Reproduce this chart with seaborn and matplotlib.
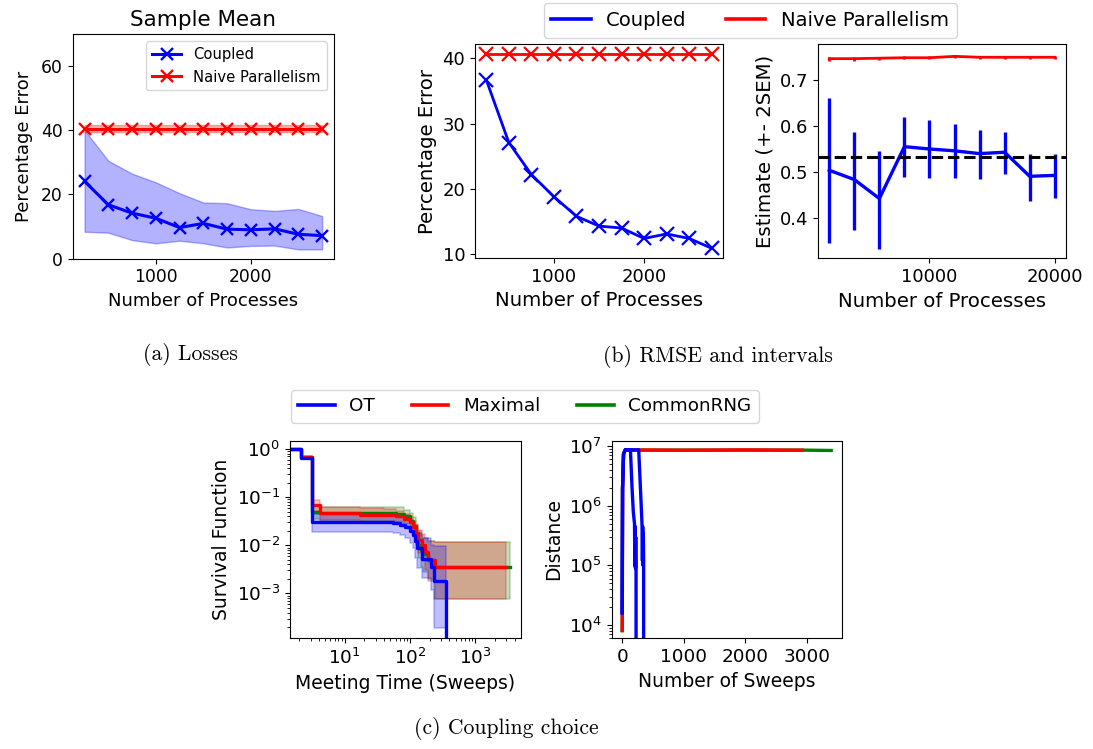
import matplotlib
matplotlib.use("Agg")
import matplotlib.pyplot as plt
from matplotlib.lines import Line2D
import numpy as np
import pandas as pd
import seaborn as sns

# ---------------- (a) Losses: sample-mean percentage error ----------------
procs = [250, 500, 750, 1000, 1250, 1500, 1750, 2000, 2250, 2500, 2750]
mean_coupled = [24.1, 16.8, 14.2, 12.6, 9.7, 11.0, 9.2, 9.0, 9.3, 7.6, 7.2]
mean_coupled_lo = [8.4, 8.1, 5.8, 4.8, 5.6, 4.8, 3.5, 4.0, 4.1, 2.9, 2.9]
mean_coupled_hi = [40.0, 30.5, 26.5, 23.8, 20.4, 17.5, 17.3, 15.4, 14.9, 15.5, 13.3]
mean_naive = [40.5, 40.5, 40.5, 40.5, 40.5, 40.5, 40.5, 40.5, 40.5, 40.5, 40.5]
mean_naive_lo = [39.4, 39.4, 39.4, 39.4, 39.4, 39.4, 39.4, 39.4, 39.4, 39.4, 39.4]
mean_naive_hi = [41.6, 41.6, 41.6, 41.6, 41.6, 41.6, 41.6, 41.6, 41.6, 41.6, 41.6]

# ---------------- (b) RMSE ----------------
rmse_coupled = [36.7, 27.1, 22.2, 18.8, 15.8, 14.3, 14.0, 12.4, 13.1, 12.4, 10.9]
rmse_naive = [40.7, 40.7, 40.7, 40.7, 40.7, 40.7, 40.7, 40.7, 40.7, 40.7, 40.7]

# ---------------- (b) estimates with +- 2 SEM ----------------
est_procs = [2000, 4000, 6000, 8000, 10000, 12000, 14000, 16000, 18000, 20000]
est_coupled = [0.504, 0.484, 0.443, 0.555, 0.550, 0.546, 0.540, 0.543, 0.491, 0.493]
est_coupled_lo = [0.348, 0.376, 0.335, 0.490, 0.488, 0.488, 0.486, 0.497, 0.438, 0.445]
est_coupled_hi = [0.660, 0.587, 0.546, 0.619, 0.612, 0.603, 0.592, 0.587, 0.540, 0.539]
est_naive = [0.745, 0.745, 0.746, 0.747, 0.747, 0.750, 0.748, 0.748, 0.748, 0.748]
est_naive_sem2 = [0.004, 0.004, 0.003, 0.003, 0.003, 0.003, 0.003, 0.003, 0.003, 0.003]
true_value = 0.532

# ---------------- (c) survival of meeting times ----------------
ot_t = [1.0, 2.1, 3.2, 55, 70, 85, 100, 112, 120, 130, 150, 210, 236, 356]
ot_s = [1.0, 0.65, 0.030, 0.029, 0.027, 0.024, 0.020, 0.016, 0.012, 0.0087, 0.0052, 0.0035, 0.0018, 0.0]
ot_lo = [1.0, 0.62, 0.019, 0.018, 0.016, 0.014, 0.011, 0.0087, 0.0055, 0.0034, 0.0021, 0.0012, 0.00019, 0.00019]
ot_hi = [1.0, 0.68, 0.045, 0.044, 0.042, 0.038, 0.033, 0.028, 0.022, 0.018, 0.014, 0.0102, 0.0095, 0.0095]

mx_t = [1.0, 2.1, 3.2, 4.2, 17, 40, 60, 80, 100, 112, 125, 134, 151, 170, 191, 241, 3000]
mx_s = [1.0, 0.67, 0.069, 0.046, 0.043, 0.042, 0.040, 0.035, 0.030, 0.0245, 0.018, 0.013, 0.0102, 0.0074, 0.0050, 0.0035, 0.0035]
mx_lo = [1.0, 0.64, 0.052, 0.033, 0.031, 0.030, 0.028, 0.024, 0.020, 0.015, 0.010, 0.0068, 0.0048, 0.0030, 0.0018, 0.00076, 0.00076]
mx_hi = [1.0, 0.70, 0.0875, 0.062, 0.060, 0.058, 0.052, 0.045, 0.038, 0.032, 0.026, 0.021, 0.017, 0.014, 0.012, 0.0118, 0.0118]

cr_t = [1.0, 2.1, 3.2, 4.2, 60, 80, 100, 112, 125, 134, 145, 160, 190, 230, 3400]
cr_s = [1.0, 0.67, 0.050, 0.046, 0.044, 0.040, 0.032, 0.025, 0.016, 0.010, 0.0080, 0.0065, 0.0050, 0.0035, 0.0035]
cr_lo = [1.0, 0.64, 0.035, 0.032, 0.031, 0.028, 0.021, 0.016, 0.0095, 0.0055, 0.0036, 0.0028, 0.0020, 0.00076, 0.00076]
cr_hi = [1.0, 0.70, 0.068, 0.064, 0.062, 0.055, 0.046, 0.038, 0.028, 0.020, 0.016, 0.014, 0.012, 0.0118, 0.0118]

# ---------------- (c) distance between coupled chains ----------------
ot1_sweeps = [0, 6, 22, 50, 134, 160, 180, 200, 205, 210, 215, 220, 225, 242]
ot1_dist = [1.6e4, 2.0e6, 7.4e6, 8.7e6, 8.7e6, 2.0e6, 8.0e5, 5.0e5, 1.0e5, 4.5e5, 9.0e4, 3.0e5, 8.4e4, 0.0]
ot2_sweeps = [0, 6, 22, 50, 268, 300, 322, 328, 333, 338, 343, 348, 360]
ot2_dist = [1.6e4, 2.0e6, 7.4e6, 8.7e6, 8.7e6, 1.6e6, 4.8e5, 1.2e5, 4.5e5, 1.0e5, 3.5e5, 1.2e5, 0.0]
mx_sweeps = [0, 2, 6, 22, 50, 1000, 2000, 2920]
mx_dist = [8.2e3, 1.6e4, 2.0e6, 7.4e6, 8.7e6, 8.6e6, 8.7e6, 8.6e6]
cr_sweeps = [0, 2, 6, 22, 50, 1000, 2000, 3000, 3390]
cr_dist = [8.0e3, 1.5e4, 2.0e6, 7.4e6, 8.6e6, 8.6e6, 8.6e6, 8.6e6, 8.5e6]

W, H = 1093, 749
fig = plt.figure(figsize=(W / 100, H / 100), dpi=100)


def box(left, top, right, bottom):
    return [left / W, 1 - bottom / H, (right - left) / W, (bottom - top) / H]


mk_a = dict(marker="x", markersize=8.5, markeredgewidth=1.7)

# ---------- panel (a) ----------
ax_a = fig.add_axes(box(72.7, 34, 334, 258.7))
ax_a.fill_between(procs, mean_coupled_lo, mean_coupled_hi, color="blue", alpha=0.3, lw=1)
ax_a.fill_between(procs, mean_naive_lo, mean_naive_hi, color="red", alpha=0.3, lw=1)
sns.lineplot(x=procs, y=mean_coupled, ax=ax_a, color="blue", markeredgecolor="blue", lw=2.2,
             estimator=None, sort=False, **mk_a)
sns.lineplot(x=procs, y=mean_naive, ax=ax_a, color="red", markeredgecolor="red", lw=2.2,
             estimator=None, sort=False, **mk_a)
ax_a.set_ylim(0, 70)
ax_a.set_xticks([1000, 2000])
ax_a.set_yticks([0, 20, 40, 60])
ax_a.tick_params(labelsize=12.3)
ax_a.set_title("Sample Mean", fontsize=15.5)
ax_a.set_xlabel("Number of Processes", fontsize=13)
ax_a.set_ylabel("Percentage Error", fontsize=13, labelpad=6)
ax_a.legend(handles=[
    Line2D([], [], color="blue", lw=2.2, label="Coupled", **mk_a),
    Line2D([], [], color="red", lw=2.2, label="Naive Parallelism", **mk_a),
], loc="upper right", fontsize=10.6)

# ---------- panel (b) left ----------
mk_b = dict(marker="x", markersize=9.5, markeredgewidth=1.6)
ax_b1 = fig.add_axes(box(475, 44, 723, 258))
sns.lineplot(x=procs, y=rmse_coupled, ax=ax_b1, color="blue", markeredgecolor="blue", lw=2.0,
             estimator=None, sort=False, **mk_b)
sns.lineplot(x=procs, y=rmse_naive, ax=ax_b1, color="red", markeredgecolor="red", lw=2.0,
             estimator=None, sort=False, **mk_b)
ax_b1.set_xticks([1000, 2000])
ax_b1.set_yticks([10, 20, 30, 40])
ax_b1.tick_params(labelsize=13)
ax_b1.set_xlabel("Number of Processes", fontsize=14.2)
ax_b1.set_ylabel("Percentage Error", fontsize=14.2)

# ---------- panel (b) right ----------
ax_b2 = fig.add_axes(box(818, 44.3, 1066, 258.3))
est_c = np.array(est_coupled)
ax_b2.errorbar(est_procs, est_naive, yerr=est_naive_sem2, color="red", lw=2.0, elinewidth=2.0)
ax_b2.errorbar(est_procs, est_coupled,
               yerr=[est_c - np.array(est_coupled_lo), np.array(est_coupled_hi) - est_c],
               color="blue", lw=0, elinewidth=2.4)
sns.lineplot(x=est_procs, y=est_coupled, ax=ax_b2, color="blue", lw=2.4, estimator=None, sort=False)
ax_b2.axhline(true_value, color="black", ls="--", lw=2.2)
ax_b2.set_ylim(0.314, 0.776)
ax_b2.set_xticks([10000, 20000])
ax_b2.set_yticks([0.4, 0.5, 0.6, 0.7])
ax_b2.tick_params(labelsize=13)
ax_b2.set_xlabel("Number of Processes", fontsize=14.2)
ax_b2.set_ylabel("Estimate (+- 2SEM)", fontsize=14.2)

fig.legend(handles=[Line2D([], [], color="blue", lw=2.6, label="Coupled"),
                    Line2D([], [], color="red", lw=2.6, label="Naive Parallelism")],
           loc="upper center", bbox_to_anchor=(750 / W, 1 - 3 / H), ncol=2,
           fontsize=14.1, borderaxespad=0)

# ---------- panel (c) left: survival ----------
ax_c1 = fig.add_axes(box(290, 440.7, 520.7, 638.3))
for t, lo, hi, col in [(cr_t, cr_lo, cr_hi, "green"), (mx_t, mx_lo, mx_hi, "red"),
                       (ot_t, ot_lo, ot_hi, "blue")]:
    ax_c1.fill_between(t, lo, hi, step="post", color=col, alpha=0.25, lw=1.2)
sns.lineplot(x=cr_t, y=cr_s, ax=ax_c1, color="green", lw=2.4, drawstyle="steps-post",
             estimator=None, sort=False)
sns.lineplot(x=mx_t, y=mx_s, ax=ax_c1, color="red", lw=2.4, drawstyle="steps-post",
             estimator=None, sort=False)
sns.lineplot(x=ot_t, y=ot_s, ax=ax_c1, color="blue", lw=2.4, drawstyle="steps-post",
             estimator=None, sort=False)
ax_c1.set_xscale("log")
ax_c1.set_yscale("log")
ax_c1.set_xlim(1.45, 4955)
ax_c1.set_ylim(1.17e-4, 1.49)
ax_c1.set_yticks([1e-3, 1e-2, 1e-1, 1e0])
ax_c1.set_xticks([1e1, 1e2, 1e3])
ax_c1.tick_params(labelsize=13.2)
ax_c1.set_xlabel("Meeting Time (Sweeps)", fontsize=13.5)
ax_c1.set_ylabel("Survival Function", fontsize=13.5)

# ---------- panel (c) right: distance ----------
ax_c2 = fig.add_axes(box(611.7, 440.7, 842.3, 638.3))
sns.lineplot(x=cr_sweeps, y=cr_dist, ax=ax_c2, color="green", lw=2.4, estimator=None, sort=False)
sns.lineplot(x=mx_sweeps, y=mx_dist, ax=ax_c2, color="red", lw=2.4, estimator=None, sort=False)
sns.lineplot(x=ot1_sweeps, y=ot1_dist, ax=ax_c2, color="blue", lw=2.4, estimator=None, sort=False)
sns.lineplot(x=ot2_sweeps, y=ot2_dist, ax=ax_c2, color="blue", lw=2.4, estimator=None, sort=False)
ax_c2.set_yscale("log")
ax_c2.set_xlim(-170, 3570)
ax_c2.set_ylim(5990, 1.24e7)
ax_c2.set_xticks([0, 1000, 2000, 3000])
ax_c2.set_yticks([1e4, 1e5, 1e6, 1e7])
ax_c2.tick_params(labelsize=13.2)
ax_c2.set_xlabel("Number of Sweeps", fontsize=13.5)
ax_c2.set_ylabel("Distance", fontsize=13.5)

fig.legend(handles=[Line2D([], [], color="blue", lw=2.6, label="OT"),
                    Line2D([], [], color="red", lw=2.6, label="Maximal"),
                    Line2D([], [], color="green", lw=2.6, label="CommonRNG")],
           loc="upper center", bbox_to_anchor=(524.7 / W, 1 - 390 / H), ncol=3,
           fontsize=13.2, borderaxespad=0)

# ---------- sub-captions ----------
cap = dict(fontfamily="cmr10", fontsize=15.6, ha="center", va="center")
fig.text(190 / W, 1 - 355 / H, "(a) Losses", **cap)
fig.text(718 / W, 1 - 357 / H, "(b) RMSE and intervals", **cap)
fig.text(506 / W, 1 - 728 / H, "(c) Coupling choice", **cap)

fig.savefig("out.png", dpi=100)
